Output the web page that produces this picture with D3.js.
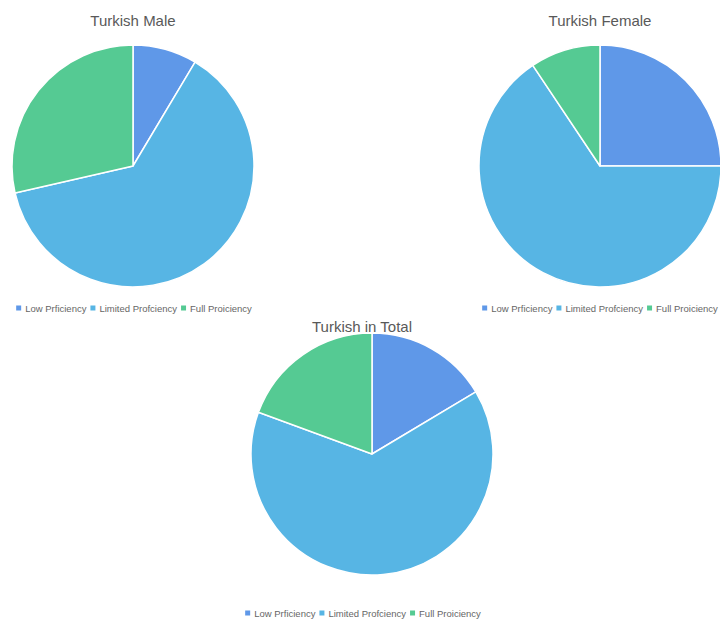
<!DOCTYPE html>
<html><head><meta charset="utf-8">
<script src="https://cdn.jsdelivr.net/npm/d3@7"></script>
<style>body{margin:0;background:#fff;}svg{display:block;font-family:"Liberation Sans",Arial,sans-serif;}</style>
</head><body>
<svg id="c" width="720" height="619"></svg>
<script>
const categories = ["Low Prficiency", "Limited Profciency", "Full Proiciency"];
const maleValues = [3, 22, 10];
const femaleValues = [8, 21, 3];
const totalValues = [11, 43, 13];
const titles = ["Turkish Male", "Turkish Female", "Turkish in Total"];
const colors = ["#5f98e8", "#57b5e4", "#55ca93"];

const charts = [
  {title: titles[0], values: maleValues, cx: 133, cy: 166, r: 121, tx: 133, ty: 26, lx: 134, ly: 312},
  {title: titles[1], values: femaleValues, cx: 600, cy: 166, r: 121, tx: 600, ty: 26, lx: 600, ly: 312},
  {title: titles[2], values: totalValues, cx: 372, cy: 454, r: 121, tx: 362, ty: 332, lx: 363, ly: 617}
];

const svg = d3.select("#c");
const color = d3.scaleOrdinal().domain(categories).range(colors);
const pie = d3.pie().sort(null).value(d => d.v);

charts.forEach(ch => {
  const data = categories.map((c, i) => ({c, v: ch.values[i]}));
  const arc = d3.arc().innerRadius(0).outerRadius(ch.r);
  const g = svg.append("g").attr("transform", `translate(${ch.cx},${ch.cy})`);
  g.selectAll("path").data(pie(data)).join("path")
    .attr("d", arc).attr("fill", d => color(d.data.c))
    .attr("stroke", "#fff").attr("stroke-width", 1.5).attr("stroke-linejoin", "round");

  svg.append("text").attr("x", ch.tx).attr("y", ch.ty).attr("text-anchor", "middle")
    .attr("font-size", 15).attr("fill", "#595959").text(ch.title);

  // legend
  const lg = svg.append("g");
  let x = 0;
  categories.forEach((c, i) => {
    const it = lg.append("g").attr("transform", `translate(${x},0)`);
    it.append("rect").attr("x", 0).attr("y", -6.5).attr("width", 5).attr("height", 5).attr("fill", color(c));
    const t = it.append("text").attr("x", 9).attr("y", 0).attr("font-size", 9.5).attr("fill", "#666").text(c);
    const w = t.node().getComputedTextLength();
    x += 9 + w + 4;
  });
  const total = x - 4;
  const left = Math.min(ch.lx - total / 2, 718 - total);
  lg.attr("transform", `translate(${left},${ch.ly})`);
});
</script>
</body></html>
